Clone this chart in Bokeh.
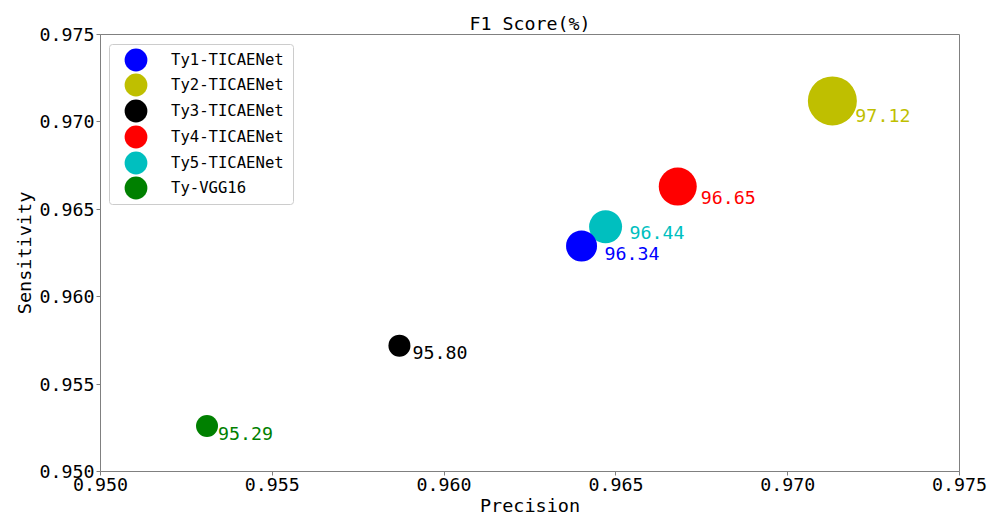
from bokeh.plotting import figure
from bokeh.models import (ColumnDataSource, Range1d, FixedTicker, PrintfTickFormatter,
                          Legend, LegendItem, BoxAnnotation)
from bokeh.embed import file_html
from bokeh.resources import INLINE
from bokeh.core.properties import value

# ---- data ----
models = ["Ty1-TICAENet", "Ty2-TICAENet", "Ty3-TICAENet",
          "Ty4-TICAENet", "Ty5-TICAENet", "Ty-VGG16"]
precision = [0.9640, 0.9713, 0.9587, 0.9668, 0.9647, 0.9531]
sensitivity = [0.9629, 0.9712, 0.9572, 0.9663, 0.9640, 0.9526]
f1_labels = ["96.34", "97.12", "95.80", "96.65", "96.44", "95.29"]
ticks = [0.950, 0.955, 0.960, 0.965, 0.970, 0.975]

# ---- styles ----
colors = ["#0000ff", "#bfbf00", "#000000", "#ff0000", "#00bfbf", "#008000"]
marker_px = [31, 49, 22, 38, 33, 22]
label_dx = [23, 23, 13, 23, 24, 11]
label_dy = [7, 15, 7, 11, 6, 7]

FONT = "DejaVu Sans Mono"
AX = "#808080"
W, H = 998, 518
BL, BR, BT, BB = 100, 39, 34, 47
FRAME_H = H - BT - BB

p = figure(width=W, height=H, output_backend="svg", toolbar_location=None,
           x_range=Range1d(0.950, 0.975), y_range=Range1d(0.950, 0.975),
           min_border_left=BL, min_border_right=BR, min_border_top=BT,
           min_border_bottom=BB)

p.title.text = "F1 Score(%)"
p.title.align = "center"
p.title.text_font = FONT
p.title.text_font_size = "18.3px"
p.title.text_font_style = "normal"
p.title.text_color = "black"
p.title.standoff = 2

p.xgrid.visible = False
p.ygrid.visible = False
p.outline_line_color = AX
p.outline_line_width = 1
p.background_fill_color = "white"
p.border_fill_color = "white"

for ax in (p.xaxis[0], p.yaxis[0]):
    ax.ticker = FixedTicker(ticks=ticks)
    ax.formatter = PrintfTickFormatter(format="%.3f")
    ax.axis_line_color = AX
    ax.major_tick_line_color = AX
    ax.major_tick_out = 4
    ax.major_tick_in = 0
    ax.minor_tick_line_color = None
    ax.major_label_text_font = FONT
    ax.major_label_text_font_size = "18.3px"
    ax.major_label_text_color = "black"
    ax.major_label_standoff = 2
    ax.axis_label_text_font = FONT
    ax.axis_label_text_font_size = "18.5px"
    ax.axis_label_text_font_style = "normal"
    ax.axis_label_text_color = "black"
    ax.axis_label_standoff = 1

p.xaxis.axis_label = "Precision"
p.yaxis.axis_label = "Sensitivity"

renderers = [None] * len(models)
for i in reversed(range(len(models))):
    src = ColumnDataSource(dict(x=[precision[i]], y=[sensitivity[i]],
                                t=[f1_labels[i]]))
    r = p.scatter("x", "y", source=src, size=marker_px[i], marker="circle",
                  fill_color=colors[i], line_color=colors[i], line_width=0)
    renderers[i] = r

for i in range(len(models)):
    src = ColumnDataSource(dict(x=[precision[i]], y=[sensitivity[i]],
                                t=[f1_labels[i]]))
    p.text("x", "y", text="t", source=src, x_offset=label_dx[i], y_offset=label_dy[i],
           text_color=colors[i], text_font=value(FONT), text_font_size="18.3px",
           text_align="left", text_baseline="middle")

# legend frame (frame-relative screen units)
box = BoxAnnotation(left=9, right=193, top=FRAME_H - 10, bottom=FRAME_H - 170,
                    left_units="screen", right_units="screen",
                    top_units="screen", bottom_units="screen",
                    fill_color="white", fill_alpha=0.8,
                    line_color="#cccccc", line_width=1, line_alpha=1,
                    border_radius=3)
p.add_layout(box)

# one legend per entry so that the legend markers can be large while rows stay tight
GLYPH = 57          # legend marker diameter = 0.4 * GLYPH
ROW_PITCH = 25.7
FIRST_CENTER = 25.3  # from frame top
for i in range(len(models)):
    vy = FRAME_H - (FIRST_CENTER + i * ROW_PITCH) - GLYPH / 2
    lg = Legend(items=[LegendItem(label=models[i], renderers=[renderers[i]])],
                location=(7, round(vy)), margin=0, padding=0,
                glyph_width=GLYPH, glyph_height=GLYPH, label_standoff=7,
                label_text_font=FONT, label_text_font_size="15.6px",
                label_text_color="black",
                border_line_color=None, background_fill_alpha=0)
    p.add_layout(lg)

open("out.html", "w").write(file_html(p, INLINE))
